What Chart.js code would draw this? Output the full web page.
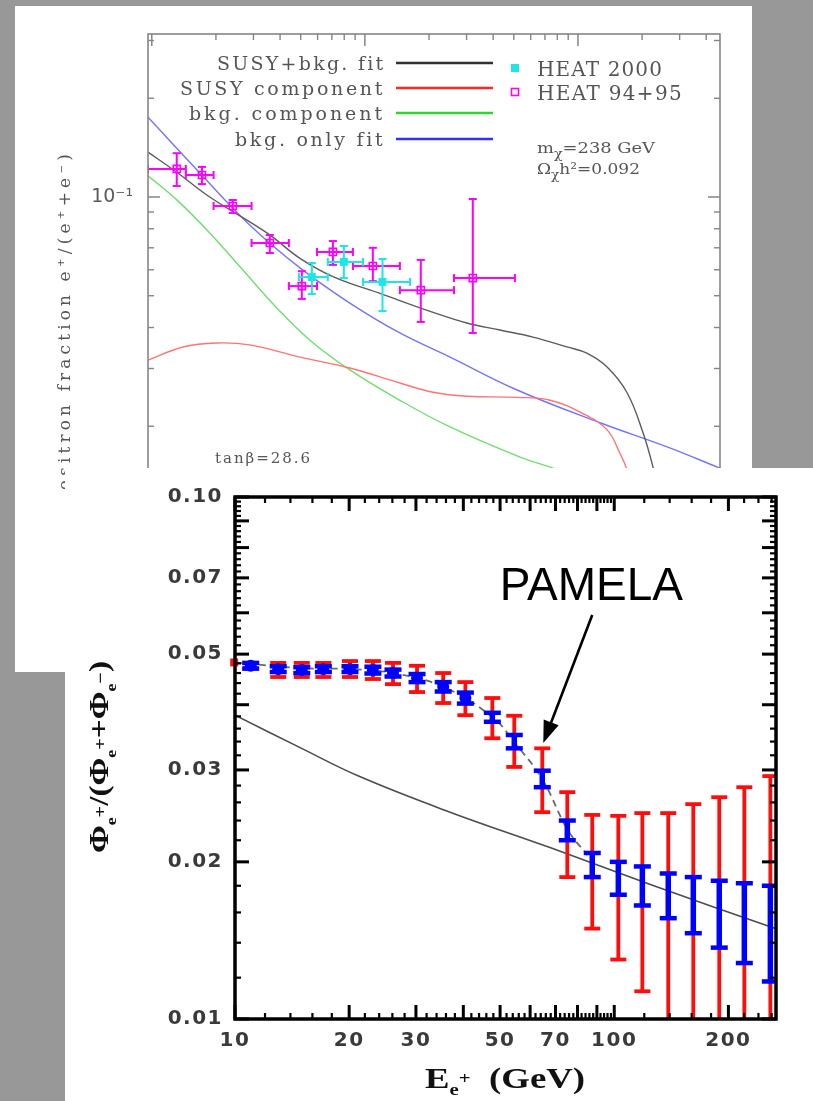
<!DOCTYPE html>
<html>
<head>
<meta charset="utf-8">
<title>Positron fraction: HEAT and PAMELA</title>
<script src="https://cdn.jsdelivr.net/npm/chart.js@4.4.1/dist/chart.umd.min.js"></script>
<style>
  html, body { margin: 0; padding: 0; }
  body { width: 813px; height: 1101px; background: #989898; position: relative; overflow: hidden; }
  .panel { position: absolute; background: #fff; }
  #heatPanel { left: 15px; top: 6px; width: 737px; height: 666px; }
  #labelMask { left: 15px; top: 489px; width: 50px; height: 183px; }
  #pamelaPanel { left: 65px; top: 468px; width: 748px; height: 633px; }
  canvas { display: block; }
</style>
</head>
<body>
<div class="panel" id="heatPanel"><canvas id="heatChart" width="737" height="666"></canvas></div>
<div class="panel" id="labelMask"></div>
<div class="panel" id="pamelaPanel"><canvas id="pamelaChart" width="748" height="633"></canvas></div>
<script>
// ---------- HEAT panel: positron fraction vs energy (GeV) ----------
const heatRangeE = [0.96, 464];
const heatRangeF = [0.01, 0.314];

const susyBkgE = [0.96, 1.31, 1.87, 3.47, 4.96, 7.08, 12.1, 20.9, 30.1, 43.0, 61.5, 88.7, 110, 137, 170, 202, 225, 243];
const susyBkgF = [0.137, 0.119, 0.100, 0.0777, 0.0650, 0.0572, 0.0505, 0.0445, 0.0413, 0.0393, 0.0374, 0.0349, 0.0334, 0.0303, 0.0253, 0.0191, 0.0150, 0.0119];

const susyE = [0.96, 1.40, 2.02, 2.88, 4.96, 8.5, 14.6, 20.9, 30.1, 51.8, 74, 105, 137, 157, 170, 185];
const susyF = [0.0318, 0.0349, 0.0359, 0.0354, 0.0325, 0.0301, 0.0271, 0.0254, 0.0247, 0.0245, 0.0240, 0.0219, 0.0195, 0.0166, 0.0147, 0.0119];

const bkgE = [0.96, 1.31, 1.87, 2.67, 3.86, 5.52, 8.5, 14.6, 25.1, 53.5, 76.4, 464];
const bkgF = [0.116, 0.098, 0.0777, 0.060, 0.0459, 0.0366, 0.0297, 0.0240, 0.0199, 0.0161, 0.0149, 0.0093];

const bkgOnlyE = [0.96, 1.68, 2.88, 4.96, 8.50, 14.6, 25.1, 51.8, 127, 262, 464];
const bkgOnlyF = [0.175, 0.1184, 0.0822, 0.0608, 0.0475, 0.0385, 0.0325, 0.0258, 0.0205, 0.0173, 0.0149];

const heat9495E   = [1.31, 1.72, 2.40, 3.58, 5.06, 7.08, 10.9, 18.3, 32.1];
const heat9495F   = [0.1218, 0.1167, 0.0939, 0.0724, 0.0535, 0.0680, 0.0616, 0.0520, 0.0566];
const heat9495ELo = [0.96, 1.445, 1.95, 2.94, 4.40, 5.96, 8.79, 14.6, 26.2];
const heat9495EHi = [1.445, 1.95, 2.94, 4.40, 5.96, 8.79, 14.6, 26.2, 50.6];
const heat9495FLo = [0.108, 0.1095, 0.0894, 0.0675, 0.0489, 0.0621, 0.0554, 0.0416, 0.0385];
const heat9495FHi = [0.136, 0.1235, 0.0979, 0.0766, 0.0594, 0.0734, 0.0700, 0.0643, 0.0986];

const heat2000E   = [5.64, 7.97, 12.1];
const heat2000F   = [0.0570, 0.0634, 0.0551];
const heat2000ELo = [4.90, 6.70, 9.8];
const heat2000EHi = [6.70, 9.8, 16.3];
const heat2000FLo = [0.0506, 0.0566, 0.0449];
const heat2000FHi = [0.0629, 0.0709, 0.0647];

const heatYLabels = [0.01, 0.1];
const heatYTexts  = ['10⁻²', '10⁻¹'];
const heatXMajor = [1, 10, 100];
const heatXMinor = [2, 3, 4, 5, 6, 7, 8, 9, 20, 30, 40, 50, 60, 70, 80, 90, 200, 300, 400];
const heatYMajor = [0.01, 0.1];
const heatYMinor = [0.02, 0.03, 0.04, 0.05, 0.06, 0.07, 0.08, 0.09, 0.2, 0.3];

// ---------- PAMELA panel ----------
const pamRangeE = [10, 267];
const pamRangeF = [0.01, 0.1];

const pamE = [11.0, 13.0, 15.0, 17.1, 20.1, 23.1, 26.1, 30.2, 35.4, 40.5, 47.7, 54.5, 64.6, 75.2, 87.5, 102.5, 118.6, 138.8, 161.6, 189.2, 220.3, 258];
const pamF = [0.0475, 0.0468, 0.0466, 0.0468, 0.0468, 0.0466, 0.0460, 0.0450, 0.0433, 0.0412, 0.0379, 0.0339, 0.0288, 0.0230, 0.0197, 0.0186, 0.0180, 0.0173, 0.0165, 0.0160, 0.0153, 0.0146];
const pamStatLo = [0.0469, 0.0462, 0.0460, 0.0462, 0.0462, 0.0459, 0.0453, 0.0442, 0.0424, 0.0402, 0.0371, 0.0330, 0.0278, 0.0220, 0.0187, 0.0173, 0.0165, 0.0156, 0.0146, 0.0137, 0.0128, 0.0118];
const pamStatHi = [0.0481, 0.0474, 0.0472, 0.0474, 0.0474, 0.0473, 0.0467, 0.0458, 0.0442, 0.0422, 0.0386, 0.0350, 0.0299, 0.0240, 0.0208, 0.0200, 0.0196, 0.0190, 0.0187, 0.0184, 0.0182, 0.0180];
const pamTotLo = [0.0470, 0.0452, 0.0452, 0.0452, 0.0452, 0.0448, 0.0438, 0.0423, 0.0403, 0.0382, 0.0345, 0.0304, 0.0249, 0.0187, 0.0149, 0.0130, 0.0113, 0.0085, 0.0080, 0.0075, 0.0070, 0.0065];
const pamTotHi = [0.0481, 0.0481, 0.0481, 0.0481, 0.0485, 0.0485, 0.0481, 0.0475, 0.0460, 0.0442, 0.0412, 0.0381, 0.0330, 0.0272, 0.0246, 0.0245, 0.0248, 0.0248, 0.0258, 0.0266, 0.0278, 0.0292];
const pamEdgeE = [9.95];
const pamEdgeF = [0.0482];

const bgLineE = [10, 14.85, 21.4, 36.9, 67.7, 124.5, 266];
const bgLineF = [0.0382, 0.0331, 0.0291, 0.0249, 0.0213, 0.0181, 0.0149];
const fitLineE = [10, 14.9, 20.1, 26.1, 35.4, 47.7, 54.5, 64.6, 75.2, 85];
const fitLineF = [0.0482, 0.0470, 0.0468, 0.0460, 0.0433, 0.0379, 0.0339, 0.0288, 0.0231, 0.0206];

const pamArrowFrom = [87.5, 0.0594];
const pamArrowTo   = [65.0, 0.0338];
const pamLabelAt   = [87, 0.0635];

const pamXLabels = [10, 20, 30, 50, 70, 100, 200];
const pamYLabels = [0.01, 0.02, 0.03, 0.05, 0.07, 0.1];
const pamXMajor = [10, 20, 30, 40, 50, 60, 70, 80, 90, 100, 200];
const pamYMajor = [0.01, 0.02, 0.03, 0.04, 0.05, 0.06, 0.07, 0.08, 0.09, 0.1];
const pamXMinor = [];
for (let v = 12; v < 100; v += 2) if (v % 10) pamXMinor.push(v);
for (let v = 120; v < 267; v += 20) if (v !== 200) pamXMinor.push(v);
const pamYMinor = [];
for (let k = 12; k < 100; k += 2) if (k % 10) pamYMinor.push(k / 1000);

// blue dots are drawn on the low-energy points only
const pamDotCount = 10;

// ---------- helpers ----------
const pts = (xs, ys) => xs.map((x, i) => ({ x, y: ys[i] }));

function line(ctx, x1, y1, x2, y2) {
  ctx.beginPath(); ctx.moveTo(x1, y1); ctx.lineTo(x2, y2); ctx.stroke();
}

// left-aligned text stretched to a given width by letter spacing
function spacedText(ctx, text, x, y, width) {
  ctx.letterSpacing = '0px';
  const w = ctx.measureText(text).width;
  if ('letterSpacing' in ctx) {
    ctx.letterSpacing = ((width - w) / text.length).toFixed(2) + 'px';
    ctx.fillText(text, x, y);
    ctx.letterSpacing = '0px';
  } else {
    ctx.save(); ctx.translate(x, y); ctx.scale(width / w, 1); ctx.fillText(text, 0, 0); ctx.restore();
  }
}

// text made of [string, size factor, baseline shift] parts, fitted to a length
function richText(ctx, parts, x, y, angle, font, length) {
  ctx.save();
  ctx.letterSpacing = '0px';
  ctx.translate(x, y);
  ctx.rotate(angle);
  let w = 0;
  parts.forEach(([t, s]) => { ctx.font = font(s); w += ctx.measureText(t).width; });
  ctx.scale(length / w, 1);
  let cx = 0;
  parts.forEach(([t, s, dy]) => {
    ctx.font = font(s);
    ctx.fillText(t, cx, dy);
    cx += ctx.measureText(t).width;
  });
  ctx.restore();
}

// error bars are drawn just before their own dataset
const errorBars = {
  id: 'errorBars',
  beforeDatasetDraw(chart, args) {
    const ds = chart.data.datasets[args.index];
    const eb = ds.errorBars;
    if (!eb) return;
    const { ctx, chartArea: a, scales: { x, y } } = chart;
    ctx.save();
    ctx.beginPath();
    ctx.rect(a.left, a.top, a.right - a.left, a.bottom - a.top);
    ctx.clip();
    ctx.strokeStyle = eb.color;
    ctx.lineCap = 'butt';
    ds.data.forEach((p, i) => {
      const px = x.getPixelForValue(p.x), py = y.getPixelForValue(p.y);
      if (eb.yLo) {
        const y1 = y.getPixelForValue(eb.yLo[i]), y2 = y.getPixelForValue(eb.yHi[i]);
        ctx.lineWidth = eb.width;
        line(ctx, px, y1, px, y2);
        ctx.lineWidth = eb.capWidth;
        line(ctx, px - eb.cap, y1, px + eb.cap, y1);
        line(ctx, px - eb.cap, y2, px + eb.cap, y2);
      }
      if (eb.xLo) {
        const x1 = x.getPixelForValue(eb.xLo[i]), x2 = x.getPixelForValue(eb.xHi[i]);
        ctx.lineWidth = eb.width;
        line(ctx, x1, py, x2, py);
        ctx.lineWidth = eb.capWidth;
        line(ctx, x1, py - eb.cap, x1, py + eb.cap);
        line(ctx, x2, py - eb.cap, x2, py + eb.cap);
      }
    });
    ctx.restore();
  }
};

// frame with tick marks pointing into the plot on all four sides
const innerTicks = {
  id: 'innerTicks',
  beforeDraw(chart, args, o) {
    chart.ctx.letterSpacing = o.labelSpacing || '0px';
  },
  afterDatasetsDraw(chart, args, o) {
    const { ctx, chartArea: a, scales: { x, y } } = chart;
    ctx.save();
    ctx.letterSpacing = '0px';
    ctx.strokeStyle = o.color;
    ctx.lineCap = 'butt';
    const inX = v => v >= x.min && v <= x.max;
    const inY = v => v >= y.min && v <= y.max;
    const xMarks = (vals, len, w) => {
      ctx.lineWidth = w;
      vals.filter(inX).forEach(v => {
        const px = x.getPixelForValue(v);
        line(ctx, px, a.bottom, px, a.bottom - len);
        line(ctx, px, a.top, px, a.top + len);
      });
    };
    const yMarks = (vals, len, w) => {
      ctx.lineWidth = w;
      vals.filter(inY).forEach(v => {
        const py = y.getPixelForValue(v);
        line(ctx, a.left, py, a.left + len, py);
        line(ctx, a.right, py, a.right - len, py);
      });
    };
    xMarks(o.xMinor, o.minorLen, o.minorWidth);
    xMarks(o.xMajor, o.majorLen, o.majorWidth);
    yMarks(o.yMinor, o.minorLen, o.minorWidth);
    yMarks(o.yMajor, o.majorLen, o.majorWidth);
    ctx.lineWidth = o.frameWidth;
    ctx.strokeRect(a.left, a.top, a.right - a.left, a.bottom - a.top);
    ctx.restore();
  }
};

function logAxis(range, labels, texts, font, color, padding, fit) {
  return {
    type: 'logarithmic',
    min: range[0],
    max: range[1],
    grid: { display: false, drawTicks: false },
    border: { display: false },
    afterBuildTicks: s => { s.ticks = labels.map(v => ({ value: v })); },
    afterFit: fit,
    ticks: {
      autoSkip: false, maxRotation: 0, minRotation: 0,
      font, color, padding,
      callback: v => texts[labels.indexOf(v)]
    }
  };
}

// smooth model curve without markers
function curve(label, xs, ys, color, keyColor, order) {
  return { label, data: pts(xs, ys), showLine: true, pointRadius: 0,
           borderColor: color, borderWidth: 1.4, tension: 0.4, keyColor, order };
}

// ---------- HEAT chart ----------
const SERIF = '"DejaVu Serif", "Liberation Serif", serif';

const heatNotes = {
  id: 'heatNotes',
  afterDraw(chart, args, o) {
    const ctx = chart.ctx;
    const sets = chart.data.datasets;
    ctx.save();
    ctx.letterSpacing = '0px';
    ctx.textAlign = 'left';
    ctx.textBaseline = 'alphabetic';
    ctx.fillStyle = '#555';

    // key: fit names with a line sample
    ctx.font = '19px ' + SERIF;
    o.lines.forEach(([i, rowY, w]) => {
      ctx.strokeStyle = sets[i].keyColor;
      ctx.lineWidth = 2.4;
      line(ctx, o.lineX[0], rowY, o.lineX[1], rowY);
      spacedText(ctx, sets[i].label, o.textRight - w, rowY + 7, w);
    });
    // key: data sets with their marker
    ctx.font = '20px ' + SERIF;
    o.marks.forEach(([i, rowY, w]) => {
      const ds = sets[i];
      if (ds.backgroundColor === 'transparent') {
        ctx.strokeStyle = ds.borderColor; ctx.lineWidth = 1.6;
        ctx.strokeRect(o.markX - 3.5, rowY - 3.5, 7, 7);
      } else {
        ctx.fillStyle = ds.backgroundColor;
        ctx.fillRect(o.markX - 4, rowY - 4, 8, 8);
      }
      ctx.fillStyle = '#555';
      spacedText(ctx, ds.label, o.markX + 22, rowY + 8, w);
    });

    // model parameters
    const small = s => Math.round(15 * s) + 'px ' + SERIF;
    richText(ctx, [['m', 1, 0], ['χ', 0.8, 5], ['=238 GeV', 1, 0]], 522, 147, 0, small, 118);
    richText(ctx, [['Ω', 1, 0], ['χ', 0.8, 5], ['h', 1, 0], ['²', 1, 0], ['=0.092', 1, 0]], 522, 168, 0, small, 103);
    ctx.font = '15px ' + SERIF;
    spacedText(ctx, 'tanβ=28.6', 200, 457, 97);

    // axis title
    ctx.save();
    ctx.translate(55, 499);
    ctx.rotate(-Math.PI / 2);
    ctx.font = '17px ' + SERIF;
    spacedText(ctx, 'Positron fraction e⁺/(e⁺+e⁻)', 0, 0, 355);
    ctx.restore();
    ctx.restore();
  }
};

new Chart(document.getElementById('heatChart'), {
  type: 'scatter',
  data: {
    datasets: [
      curve('SUSY+bkg. fit', susyBkgE, susyBkgF, '#5c5c5c', '#303030', 6),
      curve('SUSY component', susyE, susyF, '#ff7373', '#ff2626', 7),
      curve('bkg. component', bkgE, bkgF, '#6ee06e', '#2fd62f', 8),
      curve('bkg. only fit', bkgOnlyE, bkgOnlyF, '#7474ff', '#3030ff', 9),
      { label: 'HEAT 2000', data: pts(heat2000E, heat2000F), pointStyle: 'rect', pointRadius: 5.6,
        backgroundColor: '#1ee6e6', borderColor: '#1ee6e6', borderWidth: 0, order: 1,
        errorBars: { xLo: heat2000ELo, xHi: heat2000EHi, yLo: heat2000FLo, yHi: heat2000FHi,
                     color: '#1ee6e6', width: 2, cap: 4, capWidth: 2 } },
      { label: 'HEAT 94+95', data: pts(heat9495E, heat9495F), pointStyle: 'rect', pointRadius: 5,
        backgroundColor: 'transparent', borderColor: '#ff00ff', borderWidth: 1.6, order: 2,
        errorBars: { xLo: heat9495ELo, xHi: heat9495EHi, yLo: heat9495FLo, yHi: heat9495FHi,
                     color: '#ff00ff', width: 2, cap: 4, capWidth: 2 } }
    ]
  },
  options: {
    responsive: false,
    animation: false,
    events: [],
    layout: { padding: { top: 28, right: 32, bottom: 147, left: 0 } },
    plugins: {
      legend: { display: false },
      tooltip: { enabled: false },
      innerTicks: {
        color: '#858585', frameWidth: 1.6,
        xMajor: heatXMajor, xMinor: heatXMinor, yMajor: heatYMajor, yMinor: heatYMinor,
        majorLen: 12, minorLen: 6, majorWidth: 1.5, minorWidth: 1.4
      },
      heatNotes: {
        lineX: [381, 478], textRight: 370, markX: 500,
        lines: [[0, 57, 168], [1, 82, 205], [2, 107, 196], [3, 133, 150]],
        marks: [[4, 62, 126], [5, 86, 146]]
      }
    },
    scales: {
      x: Object.assign(logAxis(heatRangeE, heatXMajor, heatXMajor.map(String),
        { size: 18 }, '#555', 8, s => { s.height = 0; }), { display: false }),
      y: logAxis(heatRangeF, heatYLabels, heatYTexts,
        { family: '"DejaVu Sans", sans-serif', size: 19 }, '#5a5a5a', 15, s => { s.width = 133; })
    }
  },
  plugins: [errorBars, innerTicks, heatNotes]
});

// ---------- PAMELA chart ----------
const pamelaNotes = {
  id: 'pamelaNotes',
  afterDraw(chart) {
    const { ctx, scales: { x, y } } = chart;
    ctx.save();
    ctx.letterSpacing = '0px';
    ctx.fillStyle = '#000';
    ctx.strokeStyle = '#000';

    // experiment label with arrow to the data
    ctx.font = '46px "Liberation Sans", Arial, sans-serif';
    ctx.textAlign = 'center';
    ctx.fillText('PAMELA', x.getPixelForValue(pamLabelAt[0]), y.getPixelForValue(pamLabelAt[1]));
    const x1 = x.getPixelForValue(pamArrowFrom[0]), y1 = y.getPixelForValue(pamArrowFrom[1]);
    const x2 = x.getPixelForValue(pamArrowTo[0]), y2 = y.getPixelForValue(pamArrowTo[1]);
    const ang = Math.atan2(y2 - y1, x2 - x1);
    const head = 22, half = 8;
    ctx.lineWidth = 2.6;
    line(ctx, x1, y1, x2 - Math.cos(ang) * head * 0.8, y2 - Math.sin(ang) * head * 0.8);
    ctx.beginPath();
    ctx.moveTo(x2, y2);
    ctx.lineTo(x2 - Math.cos(ang) * head - Math.sin(ang) * half, y2 - Math.sin(ang) * head + Math.cos(ang) * half);
    ctx.lineTo(x2 - Math.cos(ang) * head + Math.sin(ang) * half, y2 - Math.sin(ang) * head - Math.cos(ang) * half);
    ctx.closePath();
    ctx.fill();

    // axis titles
    ctx.fillStyle = '#111';
    ctx.textAlign = 'left';
    const bold = s => 'bold ' + Math.round(28 * s) + 'px "Liberation Serif", "DejaVu Serif", serif';
    richText(ctx, [
      ['Φ', 1, 0], ['e', 0.55, 8], ['+', 0.6, -2], ['/', 1, 0], ['(', 1, 0],
      ['Φ', 1, 0], ['e', 0.55, 8], ['+', 0.6, -2], ['+', 1, 0],
      ['Φ', 1, 0], ['e', 0.55, 8], ['−', 0.6, -2], [')', 1, 0]
    ], 43, 385, -Math.PI / 2, bold, 192);
    const boldX = s => 'bold ' + Math.round(30 * s) + 'px "Liberation Serif", "DejaVu Serif", serif';
    richText(ctx, [['E', 1, 0], ['e', 0.55, 7], ['+', 0.55, -4], ['  (GeV)', 1, 0]], 360, 620, 0, boldX, 160);
    ctx.restore();
  }
};

new Chart(document.getElementById('pamelaChart'), {
  type: 'scatter',
  data: {
    datasets: [
      { label: 'background', data: pts(bgLineE, bgLineF), showLine: true, pointRadius: 0,
        borderColor: '#4d4d4d', borderWidth: 1.6, tension: 0.4, order: 6 },
      { label: 'signal + background', data: pts(fitLineE, fitLineF), showLine: true, pointRadius: 0,
        borderColor: '#6a6a6a', borderWidth: 1.8, borderDash: [7, 5], tension: 0.4, order: 5 },
      { label: 'PAMELA total', data: pts(pamE, pamF), pointRadius: 0, order: 3,
        errorBars: { yLo: pamTotLo, yHi: pamTotHi, color: '#ff0d0d', width: 3.8, cap: 8, capWidth: 3.8 } },
      { label: 'PAMELA edge', data: pts(pamEdgeE, pamEdgeF), pointStyle: 'rect', pointRadius: 5.6,
        backgroundColor: '#ff0d0d', borderWidth: 0, clip: false, order: 2 },
      { label: 'PAMELA statistical', data: pts(pamE, pamF), pointStyle: 'circle',
        pointRadius: c => (c.dataIndex < pamDotCount ? 6 : 0),
        backgroundColor: '#0000ff', borderWidth: 0, order: 1,
        errorBars: { yLo: pamStatLo, yHi: pamStatHi, color: '#0000ff', width: 5.5, cap: 8.5, capWidth: 4.5 } }
    ]
  },
  options: {
    responsive: false,
    animation: false,
    events: [],
    layout: { padding: { top: 29, right: 37, bottom: 0, left: 0 } },
    plugins: {
      legend: { display: false },
      tooltip: { enabled: false },
      innerTicks: {
        color: '#000', frameWidth: 3.5, labelSpacing: '1.5px',
        xMajor: pamXMajor, xMinor: pamXMinor, yMajor: pamYMajor, yMinor: pamYMinor,
        majorLen: 14, minorLen: 6, majorWidth: 3, minorWidth: 2.2
      }
    },
    scales: {
      x: logAxis(pamRangeE, pamXLabels, pamXLabels.map(String),
        { family: '"DejaVu Sans", sans-serif', size: 20, weight: 'bold' }, '#3a3a3a', 10, s => { s.height = 82; }),
      y: logAxis(pamRangeF, pamYLabels, pamYLabels.map(v => v.toFixed(2)),
        { family: '"DejaVu Sans", sans-serif', size: 20, weight: 'bold' }, '#3a3a3a', 12, s => { s.width = 170; })
    }
  },
  plugins: [errorBars, innerTicks, pamelaNotes]
});
</script>
</body>
</html>
